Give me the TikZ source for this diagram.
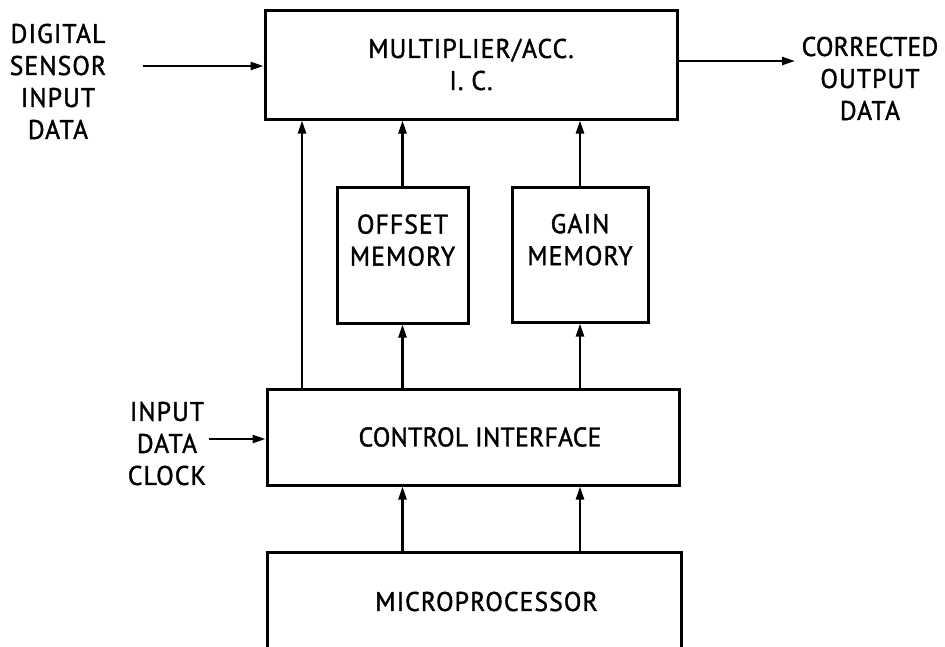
\documentclass[tikz,border=0pt]{standalone}
\usepackage{fontspec}
\setmainfont{PT Sans}[FakeBold=1.4, FakeStretch=0.95, LetterSpace=4]
\newfontfamily\tightfont{PT Sans}[FakeBold=1.4, FakeStretch=0.95, LetterSpace=1]
\usetikzlibrary{arrows.meta}
\tikzset{
  box/.style={draw, line width=3pt, inner sep=0pt, align=center, minimum width=#1},
  arr/.style={line width=2.4pt, -{Triangle[length=13pt,width=8pt]}},
  lbl/.style={align=center, inner sep=0pt},
}
\begin{document}
\begin{tikzpicture}[x=1pt, y=-1pt]
\useasboundingbox (0,0) rectangle (945,646);
\fontsize{27}{32}\selectfont
% blocks
\node[box=412pt, minimum height=109pt] (top) at (471,64.5)
  {\fontsize{27}{35}\selectfont MULTIPLIER/ACC.\\I. C.};
\node[box=131pt, minimum height=136pt] (off) at (402.5,255)
  {\fontsize{27}{37}\selectfont OFFSET\\MEMORY\\[-2pt]\mbox{}};
\node[box=136pt, minimum height=135pt] (gain) at (580,254.5)
  {\fontsize{27}{37}\selectfont GAIN\\MEMORY\\[-2pt]\mbox{}};
\node[box=412pt, minimum height=96pt] (ctrl) at (473,437)
  {\hspace*{14pt}{\tightfont CONTROL INTERFACE}};
\node[inner sep=0pt, minimum width=413pt, minimum height=97pt] (micro) at (474.5,601.5)
  {\hspace*{24pt}MICROPROCESSOR\\[0pt]\mbox{}};
\draw[line width=3pt] (micro.south west) -- (micro.north west) -- (micro.north east) -- (micro.south east);
% side labels
\node[lbl] (din) at (58,81.5) {\fontsize{27}{32}\selectfont DIGITAL\\SENSOR\\INPUT\\DATA};
\node[lbl] (dout) at (870,78.5) {\fontsize{27}{28}\selectfont\tightfont CORRECTED\\OUTPUT\\DATA};
\node[lbl] (clk) at (167,443.5) {\fontsize{27}{31}\selectfont INPUT\\DATA\\CLOCK};
% connector end points
\coordinate (inA) at (143,66);
\coordinate (outA) at (795,61);
\coordinate (clkA) at (209,439);
\coordinate (c1) at (302,0);
% connectors
\draw[arr] (inA) -- (inA -| top.west);
\draw[arr] (top.east |- outA) -- (outA);
\draw[arr] (clkA) -- (clkA -| ctrl.west);
\draw[arr] (ctrl.north -| c1) -- (top.south -| c1);
\draw[arr] (off.north) -- (top.south -| off.north);
\draw[arr] (gain.north) -- (top.south -| gain.north);
\draw[arr] (ctrl.north -| off.south) -- (off.south);
\draw[arr] (ctrl.north -| gain.south) -- (gain.south);
\draw[arr] (micro.north -| off.south) -- (ctrl.south -| off.south);
\draw[arr] (micro.north -| gain.south) -- (ctrl.south -| gain.south);
\end{tikzpicture}
\end{document}
